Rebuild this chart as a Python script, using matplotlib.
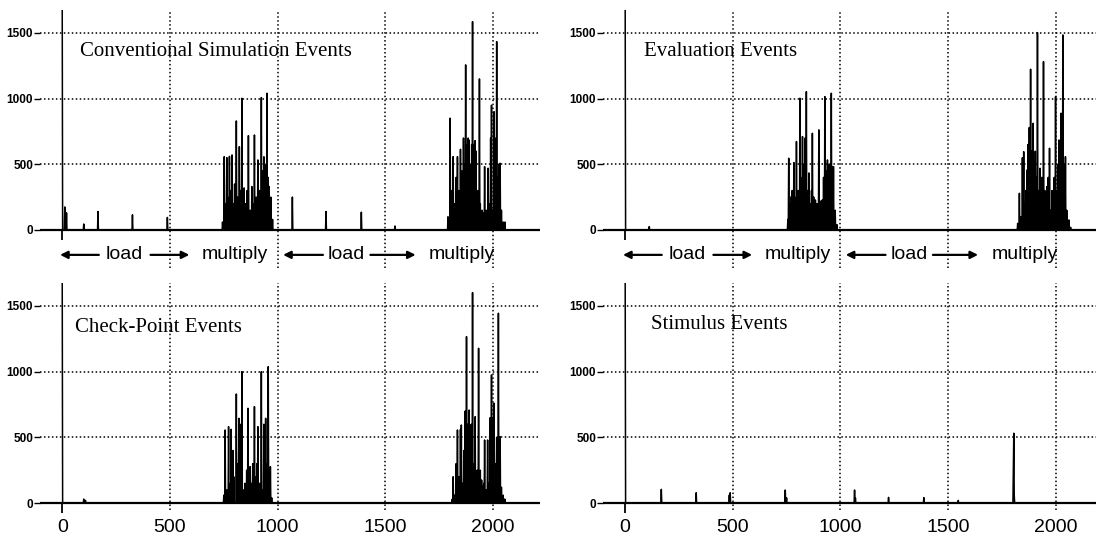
import numpy as np
import matplotlib.pyplot as plt

plt.rcParams['font.family'] = ['Liberation Sans', 'DejaVu Sans']

# events per time step (time, count)
conv_t = [0, 12, 20, 100, 166, 326, 489,
          745, 752, 757, 763, 769, 776, 782, 788, 794, 800, 807, 814, 822, 828, 834, 840, 845, 852,
          858, 865, 872, 881, 887, 893, 900, 909, 916, 924, 930, 935, 942, 950, 955, 961, 968, 975,
          1067, 1225, 1388, 1543,
          1790, 1799, 1806, 1814, 1820, 1827, 1834, 1841, 1848, 1855, 1862, 1868, 1873, 1879, 1884,
          1889, 1895, 1900, 1904, 1910, 1915, 1921, 1928, 1935, 1941, 1947, 1953, 1961, 1967, 1977,
          1983, 1988, 1992, 1998, 2004, 2009, 2015, 2021, 2026, 2031, 2038, 2046, 2054]
conv_v = [1800, 175, 130, 45, 140, 115, 95,
          60, 558, 200, 550, 250, 560, 300, 571, 200, 350, 830, 250, 634, 300, 1003, 150, 320, 200,
          300, 718, 150, 330, 200, 723, 250, 533, 300, 1008, 450, 557, 500, 1041, 400, 330, 250, 80,
          250, 140, 135, 30,
          100, 851, 300, 558, 200, 400, 558, 300, 614, 450, 700, 500, 1257, 650, 700,
          685, 500, 650, 1586, 650, 680, 600, 300, 1150, 200, 150, 130, 482, 150, 470,
          200, 700, 950, 150, 900, 700, 1434, 400, 500, 508, 150, 60, 60]

eval_t = [0, 112,
          755, 760, 766, 771, 777, 783, 789, 796, 803, 811, 817, 823, 830, 836, 842, 848, 854, 860,
          866, 870, 877, 884, 891, 899, 906, 915, 922, 929, 935, 941, 947, 952, 958, 963, 969, 976, 983,
          1825, 1833, 1840, 1846, 1851, 1857, 1862, 1867, 1872, 1878, 1884, 1890, 1895, 1900, 1906,
          1910, 1915, 1922, 1929, 1936, 1944, 1950, 1955, 1960, 1966, 1972, 1978, 1983, 1988, 1994,
          2000, 2006, 2011, 2015, 2020, 2026, 2030, 2034, 2040, 2046, 2052, 2062, 2070]
eval_v = [1800, 25,
          80, 546, 200, 254, 300, 513, 250, 673, 300, 1003, 400, 711, 500, 700, 1053, 300, 434, 200,
          300, 736, 250, 228, 200, 762, 220, 228, 400, 1015, 450, 533, 500, 500, 1041, 480, 482, 150, 40,
          50, 279, 100, 550, 596, 200, 300, 457, 650, 780, 1224, 600, 812, 300, 600,
          400, 1503, 300, 470, 400, 1282, 300, 200, 330, 400, 622, 150, 300, 250, 400,
          1015, 300, 500, 685, 600, 889, 500, 1485, 500, 558, 150, 76, 20]

chk_t = [0, 100, 108,
         750, 757, 763, 773, 779, 785, 791, 797, 807, 813, 819, 826, 834, 840, 848, 855, 862, 868,
         873, 880, 885, 892, 898, 904, 909, 916, 924, 930, 936, 943, 949, 955, 960, 966, 972,
         1810, 1814, 1820, 1828, 1834, 1840, 1847, 1853, 1858, 1864, 1870, 1876, 1882, 1887, 1893,
         1898, 1904, 1910, 1915, 1920, 1926, 1933, 1939, 1946, 1952, 1957, 1961, 1967, 1974, 1980,
         1986, 1992, 1998, 2005, 2011, 2017, 2023, 2028, 2031, 2038, 2046, 2054]
chk_v = [1800, 30, 20,
         60, 556, 100, 581, 150, 561, 400, 200, 830, 300, 645, 600, 1000, 100, 150, 250, 721, 100,
         277, 150, 300, 734, 200, 300, 581, 150, 1000, 100, 600, 645, 300, 1038, 100, 277, 40,
         30, 200, 60, 300, 556, 200, 560, 594, 150, 400, 700, 1267, 600, 708, 400,
         600, 1602, 300, 657, 200, 250, 1178, 250, 175, 130, 150, 480, 100, 480, 150,
         650, 975, 650, 760, 300, 500, 1445, 300, 505, 120, 60, 30]

stim_t = [0, 167, 330, 485, 488, 745, 750, 1066, 1070, 1225, 1388, 1549, 1803, 1806, 1809]
stim_v = [1800, 104, 78, 60, 78, 99, 40, 99, 40, 43, 41, 20, 300, 531, 60]

panel_titles = ["Conventional Simulation Events", "Evaluation Events",
                "Check-Point Events", "Stimulus Events"]
xtick_vals = [0, 500, 1000, 1500, 2000]
ytick_vals = [0, 500, 1000, 1500]
phase_labels = ["load", "multiply", "load", "multiply"]
phase_label_x = [290, 800, 1320, 1855]
phase_arrows = [(170, -10), (410, 590), (1210, 1025), (1430, 1640)]  # (tail, head)

t_axis = np.arange(0, 2202, 2)


def to_series(times, values):
    y = np.zeros(len(t_axis))
    for t, v in zip(times, values):
        i = int(round(t / 2))
        y[i] = max(y[i], v)
    return y


W, H = 1096, 538
fig = plt.figure(figsize=(W / 100, H / 100), dpi=100)


def px_rect(x0, x1, ytop, ybot):
    return [x0 / W, 1 - ybot / H, (x1 - x0) / W, (ybot - ytop) / H]


# axes placed in pixels so the four panels line up with the scan
ax_tl = fig.add_axes(px_rect(40, 540, 10, 268))
ax_tr = fig.add_axes(px_rect(603, 1096, 10, 268))
ax_bl = fig.add_axes(px_rect(40, 540, 283, 509.6))
ax_br = fig.add_axes(px_rect(603, 1096, 283, 509.6))

panels = [
    (ax_tl, conv_t, conv_v, panel_titles[0], (-103, 2217), (-290, 1675), (82, 1356), True),
    (ax_tr, eval_t, eval_v, panel_titles[1], (-103, 2188), (-290, 1675), (88, 1356), True),
    (ax_bl, chk_t, chk_v, panel_titles[2], (-103, 2217), (-50, 1675), (59, 1333), False),
    (ax_br, stim_t, stim_v, panel_titles[3], (-103, 2188), (-50, 1675), (121, 1356), False),
]

dots = (0, (1, 1.6))

for ax, times, values, title, xl, yl, txy, top in panels:
    ax.set_xlim(xl)
    ax.set_ylim(yl)
    for s in ax.spines.values():
        s.set_visible(False)

    # dotted grid
    ax.vlines(xtick_vals[1:], yl[0], yl[1], colors='black', linestyles=dots, lw=1.1)
    ax.hlines(ytick_vals[1:], xl[0], xl[1], colors='black', linestyles=dots, lw=1.1)

    ax.plot(t_axis, to_series(times, values), color='black', lw=1.1, clip_on=True)
    ax.axhline(0, color='black', lw=1.6)
    ax.vlines(0, -75, 0, colors='black', lw=1.3, clip_on=False)

    ax.text(txy[0], txy[1], title, ha='left', va='center', fontsize=15,
            family=['Liberation Serif', 'DejaVu Serif'])

    ax.set_yticks(ytick_vals)
    ax.tick_params(axis='y', length=4, width=1, pad=1, labelsize=8.5)
    for lab in ax.get_yticklabels():
        lab.set_fontweight('bold')
    ax.set_xticks(xtick_vals)
    ax.tick_params(axis='x', length=0, pad=7, labelsize=14)
    if top:
        ax.tick_params(axis='x', labelbottom=False)
        ya = -190
        for lab, lx in zip(phase_labels, phase_label_x):
            ax.text(lx, ya, lab, ha='center', va='center', fontsize=14)
        for tail, head in phase_arrows:
            ax.annotate('', xy=(head, ya), xytext=(tail, ya),
                        arrowprops=dict(arrowstyle='-|>', lw=1.6, color='black',
                                        mutation_scale=11, shrinkA=0, shrinkB=0))

fig.savefig('out.png', dpi=100)
